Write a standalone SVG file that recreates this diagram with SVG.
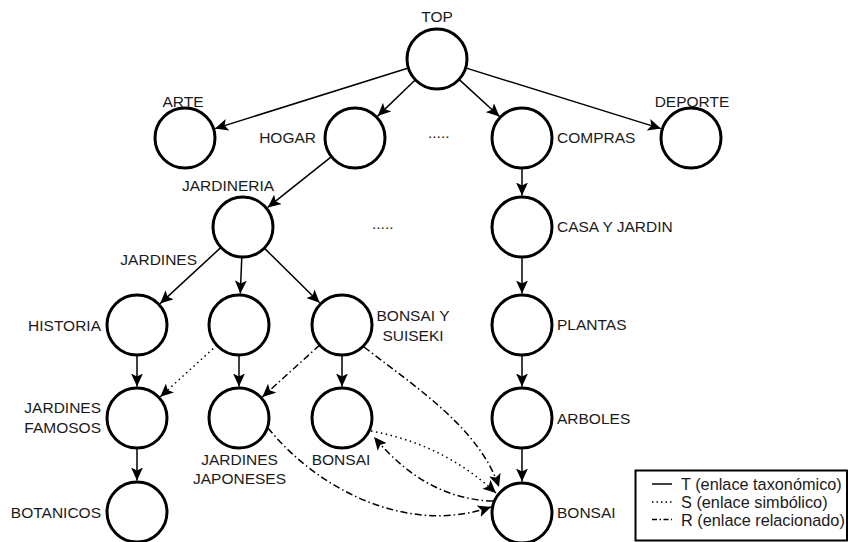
<svg xmlns="http://www.w3.org/2000/svg" width="849" height="542" viewBox="0 0 849 542">
<defs>
<marker id="ah" markerUnits="userSpaceOnUse" markerWidth="14" markerHeight="12" refX="13" refY="6" orient="auto">
<path d="M0,0 L13,6 L0,12 L3,6 z" fill="#000"/>
</marker>
<style>
.n{fill:#fff;stroke:#000;stroke-width:3}
.t{font-family:"Liberation Sans",Arial,sans-serif;font-size:15.5px;fill:#1a1a1a}
.lg{font-family:"Liberation Sans",Arial,sans-serif;font-size:16.3px;fill:#1a1a1a}
.e{fill:none;stroke:#000;stroke-width:1.5;marker-end:url(#ah)}
.s{fill:none;stroke:#000;stroke-width:1.5;stroke-dasharray:1.5,3.5;marker-end:url(#ah)}
.r{fill:none;stroke:#000;stroke-width:1.5;stroke-dasharray:7,3,1.5,3;marker-end:url(#ah)}
</style>
</defs>
<rect width="849" height="542" fill="#fff"/>
<g id="connectors">
<line class="e" x1="408.4" y1="68" x2="215.1" y2="128.6"/>
<line class="e" x1="415.4" y1="79.8" x2="377.7" y2="116.1"/>
<line class="e" x1="459" y1="79.4" x2="499.5" y2="116.5"/>
<line class="e" x1="465.6" y1="67.9" x2="660.9" y2="128.6"/>
<line class="e" x1="331.5" y1="156.7" x2="267.7" y2="207.4"/>
<line class="e" x1="522" y1="168" x2="522" y2="195.5"/>
<line class="e" x1="522" y1="257" x2="522" y2="293.5"/>
<line class="e" x1="522" y1="355" x2="522" y2="386.5"/>
<line class="e" x1="522" y1="448" x2="522" y2="481.5"/>
<line class="e" x1="221" y1="247.4" x2="160.1" y2="303.6"/>
<line class="e" x1="241.8" y1="257" x2="240.3" y2="293.5"/>
<line class="e" x1="264.3" y1="248.1" x2="319.6" y2="302.8"/>
<line class="e" x1="137" y1="355" x2="137" y2="386.5"/>
<line class="e" x1="137" y1="448" x2="137" y2="480.5"/>
<line class="e" x1="239" y1="355" x2="239" y2="386.5"/>
<line class="e" x1="342" y1="355" x2="342" y2="386.5"/>
<line class="s" x1="216.8" y1="345.2" x2="160.3" y2="396.8"/>
<line class="r" x1="319.7" y1="345.1" x2="262.4" y2="396.9"/>
<path class="r" d="M364,347 C420,390 480,430 499,487"/>
<path class="s" d="M371,431 C420,440 460,460 496,493"/>
<path class="r" d="M493,501 C450,500 410,480 374,437"/>
<path class="r" d="M268,428 C320,492 410,535 491,507"/>
</g>
<g id="top"><circle class="n" cx="437" cy="59" r="30"/><text class="t" x="437" y="22" text-anchor="middle">TOP</text></g>
<g id="arte"><circle class="n" cx="185" cy="138" r="30"/><text class="t" x="183" y="107" text-anchor="middle">ARTE</text></g>
<g id="hogar"><circle class="n" cx="355" cy="138" r="30"/><text class="t" x="316" y="143" text-anchor="end">HOGAR</text></g>
<g id="compras"><circle class="n" cx="522" cy="138" r="30"/><text class="t" x="557" y="143">COMPRAS</text></g>
<g id="deporte"><circle class="n" cx="691" cy="138" r="30"/><text class="t" x="692" y="107" text-anchor="middle">DEPORTE</text></g>
<g id="jardineria"><circle class="n" cx="243" cy="227" r="30"/><text class="t" x="228" y="191" text-anchor="middle">JARDINERIA</text><text class="t" x="197" y="265" text-anchor="end">JARDINES</text></g>
<g id="casa"><circle class="n" cx="522" cy="227" r="30"/><text class="t" x="557" y="232">CASA Y JARDIN</text></g>
<g id="historia"><circle class="n" cx="137" cy="325" r="30"/><text class="t" x="101" y="331" text-anchor="end">HISTORIA</text></g>
<g id="mid"><circle class="n" cx="239" cy="325" r="30"/></g>
<g id="bss"><circle class="n" cx="342" cy="325" r="30"/><text class="t" x="413" y="321" text-anchor="middle">BONSAI Y</text><text class="t" x="413" y="341" text-anchor="middle">SUISEKI</text></g>
<g id="plantas"><circle class="n" cx="522" cy="325" r="30"/><text class="t" x="557" y="330">PLANTAS</text></g>
<g id="jfamosos"><circle class="n" cx="137" cy="418" r="30"/><text class="t" x="101" y="413" text-anchor="end">JARDINES</text><text class="t" x="101" y="433" text-anchor="end">FAMOSOS</text></g>
<g id="jjaponeses"><circle class="n" cx="239" cy="418" r="30"/><text class="t" x="239.5" y="465" text-anchor="middle">JARDINES</text><text class="t" x="239.5" y="484" text-anchor="middle">JAPONESES</text></g>
<g id="bonsai1"><circle class="n" cx="342" cy="418" r="30"/><text class="t" x="341" y="465" text-anchor="middle">BONSAI</text></g>
<g id="arboles"><circle class="n" cx="522" cy="418" r="30"/><text class="t" x="557" y="424">ARBOLES</text></g>
<g id="botanicos"><circle class="n" cx="137" cy="512" r="30"/><text class="t" x="101" y="518" text-anchor="end">BOTANICOS</text></g>
<g id="bonsai2"><circle class="n" cx="522" cy="513" r="30"/><text class="t" x="557" y="518">BONSAI</text></g>
<g id="dots"><text class="t" x="372" y="229">.....</text><text class="t" x="428" y="138">.....</text></g>
<g id="legend">
<rect x="635.5" y="470.5" width="211.5" height="70" fill="#fff" stroke="#000" stroke-width="2"/>
<line x1="652" y1="484" x2="672" y2="484" stroke="#000" stroke-width="1.5"/>
<line x1="652" y1="502" x2="672" y2="502" stroke="#000" stroke-width="1.5" stroke-dasharray="1.5,3"/>
<line x1="652" y1="519.5" x2="672" y2="519.5" stroke="#000" stroke-width="1.5" stroke-dasharray="5,2.5,1.5,2.5"/>
<text class="lg" x="681" y="490">T (enlace taxonómico)</text>
<text class="lg" x="681" y="507.5">S (enlace simbólico)</text>
<text class="lg" x="681" y="525.5">R (enlace relacionado)</text>
</g>
</svg>
